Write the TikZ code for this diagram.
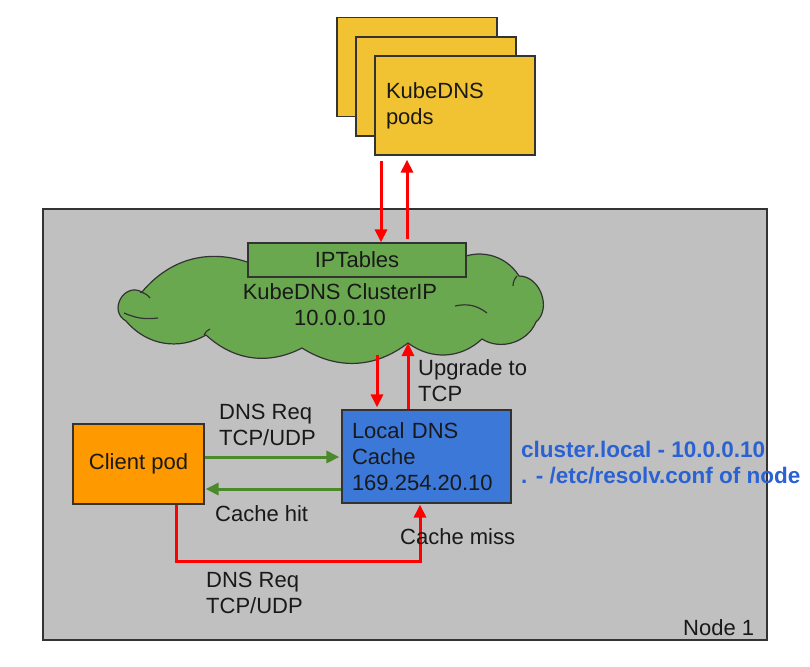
\documentclass[tikz,border=0pt]{standalone}
\usepackage{fontspec}
\setmainfont{Liberation Sans}
\usetikzlibrary{arrows.meta,calc}
\definecolor{podyellow}{HTML}{F1C232}
\definecolor{clientorange}{HTML}{FF9900}
\definecolor{cacheblue}{HTML}{3C78D8}
\definecolor{cloudgreen}{HTML}{6AA84F}
\definecolor{nodegray}{HTML}{C0C0C0}
\definecolor{arrowgreen}{HTML}{4A8A2A}
\definecolor{infoblue}{HTML}{2A62D4}
\definecolor{edgedark}{HTML}{333333}
\tikzset{
  txt/.style={font=\fontsize{22pt}{26pt}\selectfont, text=black!90},
  boxstyle/.style={draw=edgedark, line width=1.2pt, rectangle, inner sep=0pt, txt},
  podbox/.style={boxstyle, fill=podyellow, minimum width=160pt, minimum height=99pt},
  redarrow/.style={draw=red, line width=3pt, -{Triangle[length=13pt,width=12pt]}},
  greenarrow/.style={draw=arrowgreen, line width=3pt, -{Triangle[length=13pt,width=12pt]}},
  lbl/.style={txt, inner sep=0pt, anchor=west, align=left},
  cloudline/.style={draw=edgedark, line width=1.2pt},
}
\begin{document}
\begin{tikzpicture}[x=1pt,y=-1pt]
\useasboundingbox[fill=white] (0,0) rectangle (810,666);
% Node 1 area
\node[draw=edgedark, line width=1.2pt, fill=nodegray, rectangle, inner sep=0pt,
      minimum width=724pt, minimum height=431pt] (node1) at (405,424.5) {};
\node[lbl] (node1lbl) at (683,628) {Node 1};
% KubeDNS pods
\node[podbox] (podback) at (417,67) {};
\node[podbox] (podmid) at (436,86.5) {};
\node[podbox, align=left, text width=138pt, inner xsep=11pt] (pods) at (455,105.5) {KubeDNS\\pods};
% Cloud (drawn shape)
\coordinate (c1) at (142,292);
\coordinate (c2) at (250,263);
\coordinate (c3) at (455,261);
\coordinate (c4) at (519,276);
\coordinate (c5) at (536,322);
\coordinate (c6) at (482,339);
\coordinate (cloudnotch) at (408,343);
\coordinate (c8) at (302,348);
\coordinate (c9) at (206,335);
\coordinate (c10) at (126,321);
\path[cloudline, fill=cloudgreen]
  (c10) to[bend left=90, looseness=1.6] (c1)
        to[bend left=35] (c2)
        to[bend left=15] (c3)
        to[bend left=45] (c4)
        to[bend left=70, looseness=1.1] (c5)
        to[bend left=50] (c6)
        to[bend left=40] (cloudnotch)
        to[bend left=35] (c8)
        to[bend left=35] (c9)
        to[bend left=40] (c10) -- cycle;
% cloud creases
\draw[cloudline] (124,313) to[bend right=15] (158,318);
\draw[cloudline] (455,306) to[bend left=25] (487,313);
\draw[cloudline] (140,292) to[bend left=20] (150,298);
\draw[cloudline] (517,276) to[bend right=20] (513,286);
\draw[cloudline] (204,335) to[bend left=20] (210,329);
\coordinate (cloudbot) at (377,352);
\node[txt, align=center, inner sep=0pt] (cloudtxt) at (340,305) {KubeDNS ClusterIP\\10.0.0.10};
% IPTables
\node[boxstyle, fill=cloudgreen, minimum width=218pt, minimum height=34pt] (ipt) at (357,260) {IPTables};
% Local DNS cache
\node[boxstyle, fill=cacheblue, minimum width=169pt, minimum height=93pt, align=left,
      text width=149pt, inner xsep=10pt] (local) at (426.5,456.5) {Local DNS\\Cache\\169.254.20.10};
% Client pod
\node[boxstyle, fill=clientorange, minimum width=131pt, minimum height=80pt] (client) at (138.5,464) {Client pod};
% pods <-> iptables
\draw[redarrow, shorten <=5pt] ([xshift=-74pt]pods.south) -- ([xshift=-74pt]pods.south |- ipt.north);
\draw[redarrow, shorten <=3pt, shorten >=4pt] ([xshift=-48pt]pods.south |- ipt.north) -- ([xshift=-48pt]pods.south);
% cloud <-> local
\draw[redarrow, shorten <=3pt, shorten >=2pt] (cloudbot) -- (cloudbot |- local.north);
\draw[redarrow] (cloudnotch |- local.north) -- (cloudnotch);
\node[lbl] (upg) at (418,380.5) {Upgrade to\\TCP};
% client <-> local
\draw[greenarrow, shorten >=2pt] ([yshift=7pt]client.east) coordinate (g1) -- (g1 -| local.west);
\draw[greenarrow, shorten >=1pt] ([yshift=-32.5pt]local.west) coordinate (g2) -- (g2 -| client.east);
\node[lbl] (req1) at (219,424.5) {DNS Req\\TCP/UDP};
\node[lbl] (hit) at (215,514) {Cache hit};
% cache miss path
\draw[redarrow, shorten >=1pt] ([xshift=37.5pt]client.south) -- ++(0,57) -| ([xshift=-6.5pt]local.south);
\node[lbl] (miss) at (400,537) {Cache miss};
\node[lbl] (req2) at (206,592.5) {DNS Req\\TCP/UDP};
% info text
\node[lbl, text=infoblue, font=\fontsize{22.5pt}{26pt}\selectfont\bfseries] (info) at (521,463) {cluster.local - 10.0.0.10\\. - /etc/resolv.conf of node};
\end{tikzpicture}
\end{document}
